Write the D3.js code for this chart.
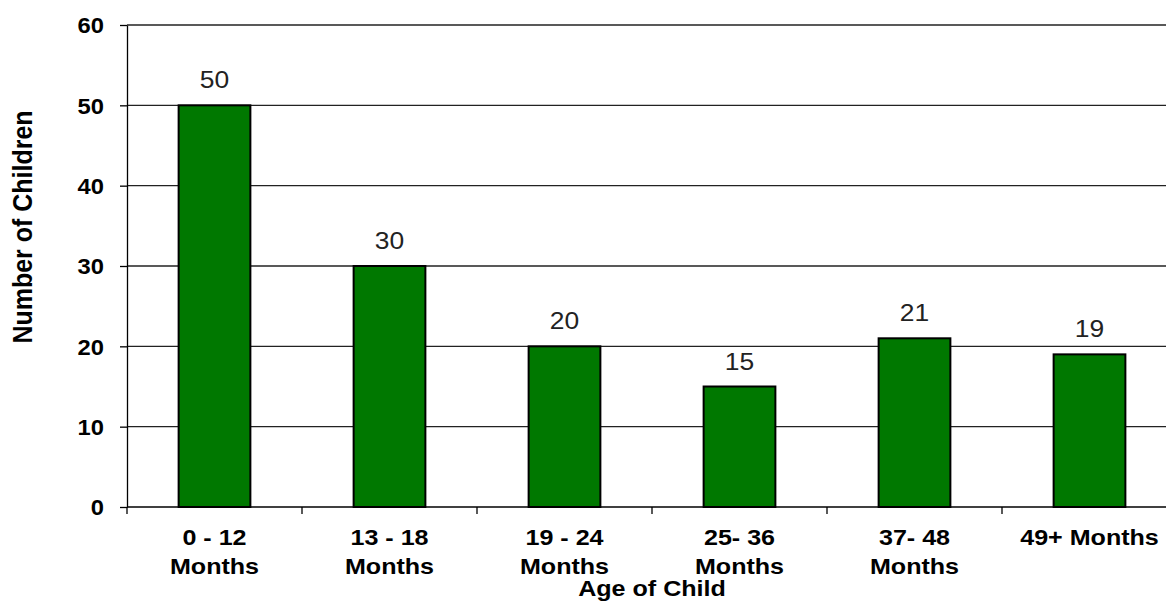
<!DOCTYPE html>
<html>
<head>
<meta charset="utf-8">
<script src="https://cdn.jsdelivr.net/npm/d3@7"></script>
<style>
  html, body { margin: 0; padding: 0; background: #fff; }
  svg { display: block; }
  text { font-family: "Liberation Sans", Arial, sans-serif; }
</style>
</head>
<body>
<svg id="chart" width="1166" height="601"></svg>
<script>
const categories = ["0 - 12\nMonths", "13 - 18\nMonths", "19 - 24\nMonths", "25- 36\nMonths", "37- 48\nMonths", "49+ Months"];
const values = [50, 30, 20, 15, 21, 19];
const yTicks = [0, 10, 20, 30, 40, 50, 60];
const yTitle = "Number of Children";
const xTitle = "Age of Child";

(function () {
const W = 1166, H = 601;
const mLeft = 127, mRight = 1177, mTop = 25, mBottom = 507;
const svg = d3.select("#chart");

const x = d3.scaleBand().domain(categories).range([mLeft, mRight]).paddingInner(0.59).paddingOuter(0.295);
const y = d3.scaleLinear().domain([0, 60]).range([mBottom, mTop]);

// gridlines
svg.append("g").selectAll("line").data(yTicks.filter(d => d > 0)).join("line")
  .attr("x1", mLeft).attr("x2", W)
  .attr("y1", d => y(d)).attr("y2", d => y(d))
  .attr("stroke", "#222").attr("stroke-width", 1.3);

// bars
svg.append("g").selectAll("rect").data(values).join("rect")
  .attr("x", (d, i) => x(categories[i]))
  .attr("width", x.bandwidth())
  .attr("y", d => y(d))
  .attr("height", d => y(0) - y(d))
  .attr("fill", "#007800")
  .attr("stroke", "#000").attr("stroke-width", 2);

// value labels
svg.append("g").selectAll("text").data(values).join("text")
  .attr("transform", (d, i) => `translate(${x(categories[i]) + x.bandwidth() / 2},${y(d) - 17}) scale(1.1,1)`)
  .attr("text-anchor", "middle")
  .attr("font-size", 24)
  .attr("fill", "#222")
  .text(d => d);

// y axis
const yAxis = svg.append("g").attr("transform", `translate(${mLeft},0)`)
  .call(d3.axisLeft(y).tickValues(yTicks).tickSize(7).tickSizeOuter(0));
yAxis.select(".domain").attr("stroke", "#000").attr("stroke-width", 1.3);
yAxis.selectAll(".tick line").attr("stroke", "#000").attr("stroke-width", 1.3);
yAxis.selectAll(".tick text")
  .attr("x", 0).attr("dy", "0.36em")
  .attr("transform", "translate(-23,0) scale(1.08,1)")
  .attr("font-size", 22).attr("font-weight", "bold")
  .attr("fill", "#000")
  .attr("font-family", "'Liberation Sans', Arial, sans-serif");

// x axis line and boundary ticks
svg.append("line").attr("x1", mLeft).attr("x2", W).attr("y1", mBottom).attr("y2", mBottom)
  .attr("stroke", "#000").attr("stroke-width", 1.3);
const boundaries = categories.map(c => x(c) + x.bandwidth() / 2 - x.step() / 2).concat([mRight]);
svg.append("g").selectAll("line").data(boundaries).join("line")
  .attr("x1", d => d).attr("x2", d => d)
  .attr("y1", mBottom).attr("y2", mBottom + 7)
  .attr("stroke", "#000").attr("stroke-width", 1.3);

// category labels
const catG = svg.append("g").selectAll("g").data(categories).join("g")
  .attr("transform", d => `translate(${x(d) + x.bandwidth() / 2},0)`);
catG.each(function (d) {
  const lines = d.split("\n");
  d3.select(this).selectAll("text").data(lines).join("text")
    .attr("transform", (l, j) => `translate(0,${545 + j * 29}) scale(1.14,1)`)
    .attr("text-anchor", "middle")
    .attr("font-size", 22).attr("font-weight", "bold")
    .attr("fill", "#000")
    .text(l => l);
});

// axis titles
svg.append("text")
  .attr("transform", `translate(${(mLeft + mRight) / 2},596) scale(1.14,1)`)
  .attr("text-anchor", "middle")
  .attr("font-size", 22).attr("font-weight", "bold")
  .text(xTitle);

svg.append("text")
  .attr("transform", `translate(32,227) scale(1.12,1) rotate(-90)`)
  .attr("text-anchor", "middle")
  .attr("font-size", 25).attr("font-weight", "bold")
  .text(yTitle);
})();
</script>
</body>
</html>
